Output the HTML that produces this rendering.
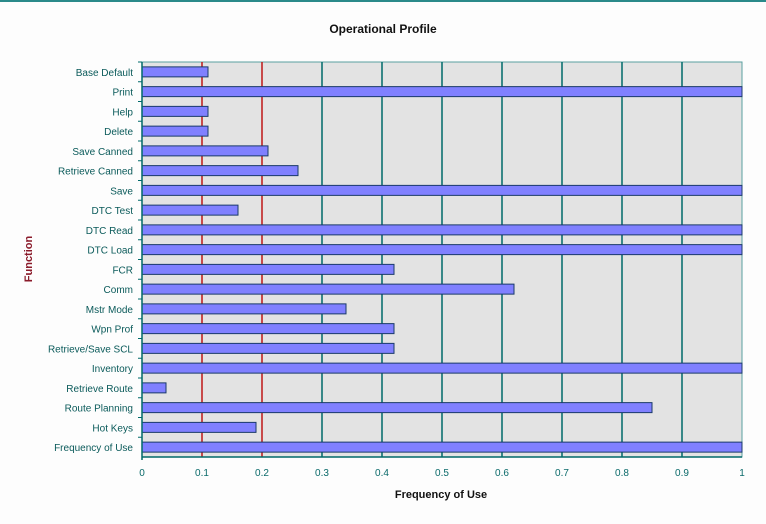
<!DOCTYPE html>
<html><head><meta charset="utf-8"><style>
body{margin:0;background:#fdfdfd;font-family:"Liberation Sans",sans-serif}
svg{display:block}
</style></head><body>
<svg width="766" height="524">
<rect x="0" y="0" width="766" height="2" fill="#2a8a8a"/>
<text x="383" y="33" text-anchor="middle" font-size="12" font-weight="bold" fill="#111">Operational Profile</text>
<rect x="142" y="62" width="600" height="395" fill="#e3e3e3" stroke="#5aa0a0"/>
<g id="grid"></g><g id="bars"></g><g id="ylabels"></g><g id="xlabels"></g>
<line x1="142" y1="62" x2="142" y2="460" stroke="#006a6a" stroke-width="1.5"/>
<line x1="142" y1="457" x2="742" y2="457" stroke="#006a6a" stroke-width="1.5"/>
<text x="441" y="498" text-anchor="middle" font-size="11" font-weight="bold" fill="#111">Frequency of Use</text>
<text transform="translate(32,259) rotate(-90)" text-anchor="middle" font-size="11" font-weight="bold" fill="#8a1a2a">Function</text>
</svg>
<script>
const categories=["Base Default","Print","Help","Delete","Save Canned","Retrieve Canned","Save","DTC Test","DTC Read","DTC Load","FCR","Comm","Mstr Mode","Wpn Prof","Retrieve/Save SCL","Inventory","Retrieve Route","Route Planning","Hot Keys","Frequency of Use"];
const values=[0.11,1,0.11,0.11,0.21,0.26,1,0.16,1,1,0.42,0.62,0.34,0.42,0.42,1,0.04,0.85,0.19,1];
const ticks=[0,0.1,0.2,0.3,0.4,0.5,0.6,0.7,0.8,0.9,1];
const NS="http://www.w3.org/2000/svg";
const X0=142,X1=742,Y0=62,Y1=457;
const xs=v=>X0+v*(X1-X0);
const band=(Y1-Y0)/categories.length;
const yc=i=>Y0+(i+0.5)*band;
function mk(t,a,p){const e=document.createElementNS(NS,t);for(const k in a)e.setAttribute(k,a[k]);p.appendChild(e);return e;}
const g=document.getElementById('grid'),b=document.getElementById('bars'),yl=document.getElementById('ylabels'),xl=document.getElementById('xlabels');
ticks.forEach(t=>{
  if(t>0&&t<1){const l=mk('line',{x1:xs(t),y1:Y0,x2:xs(t),y2:Y1,stroke:(t<0.25?'#c01818':'#006a6a'),'stroke-width':1.5},g);
  
  }
  const tx=mk('text',{x:xs(t),y:476,'text-anchor':'middle','font-size':10,fill:'#0a6a6a'},xl);
  tx.textContent=String(t);
  
  
});
categories.forEach((c,i)=>{
  const r=mk('rect',{x:X0,y:yc(i)-5,width:xs(values[i])-X0,height:10,fill:'#8080ff',stroke:'#1a3a6a','stroke-width':1},b);
  
  
  const tk=mk('line',{x1:X0-4,y1:Y0+i*band,x2:X0,y2:Y0+i*band,stroke:'#006a6a'},g);
  
  
  const t=mk('text',{x:133,y:yc(i)+4,'text-anchor':'end','font-size':10,fill:'#0a5a5a'},yl);
  t.textContent=c;
  
  
});
</script>
</body></html>
